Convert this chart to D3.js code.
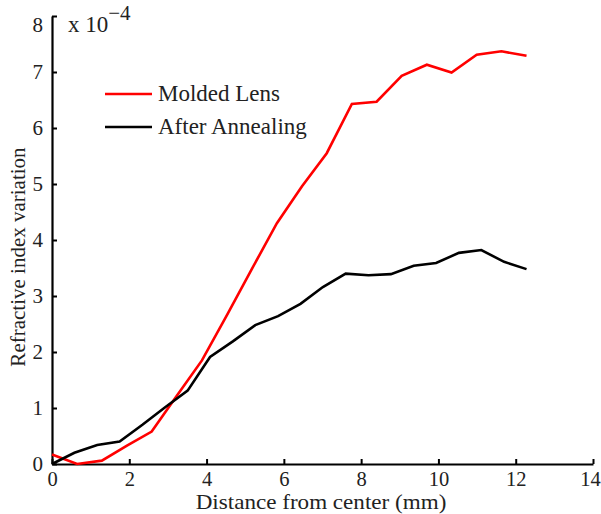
<!DOCTYPE html>
<html><head><meta charset="utf-8">
<script src="https://cdn.jsdelivr.net/npm/d3@7"></script>
<style>
body{margin:0;background:#fff;}
text{font-family:"Liberation Serif","Times New Roman",serif;fill:#222;}
</style></head>
<body>
<svg id="chart" width="601" height="514"></svg>
<script>
const xMolded = [0, 0.65, 1.29, 1.94, 2.58, 3.23, 3.88, 4.52, 5.17, 5.82, 6.47, 7.11, 7.76, 8.40, 9.05, 9.70, 10.34, 10.99, 11.63, 12.28];
const molded = [0.17, 0.0, 0.06, 0.33, 0.58, 1.22, 1.85, 2.65, 3.48, 4.30, 4.96, 5.55, 6.43, 6.47, 6.93, 7.13, 6.99, 7.31, 7.37, 7.29];
const xAnneal = [0, 0.58, 1.17, 1.75, 2.34, 2.92, 3.51, 4.09, 4.68, 5.26, 5.85, 6.43, 7.01, 7.60, 8.19, 8.77, 9.36, 9.94, 10.53, 11.11, 11.70, 12.28];
const anneal = [0, 0.20, 0.34, 0.40, 0.70, 1.01, 1.31, 1.91, 2.19, 2.48, 2.64, 2.86, 3.16, 3.40, 3.37, 3.39, 3.54, 3.59, 3.77, 3.82, 3.61, 3.48];
const xTicks = [0, 2, 4, 6, 8, 10, 12, 14];
const yTicks = [0, 1, 2, 3, 4, 5, 6, 7, 8];
const seriesNames = ["Molded Lens", "After Annealing"];
const seriesColors = ["#ff0000", "#000000"];

const svg = d3.select("#chart");
const m = {l: 52, r: 8, t: 16, b: 50};
const W = 601, H = 514;
const x = d3.scaleLinear().domain([0, 14]).range([m.l, W - m.r]);
const y = d3.scaleLinear().domain([0, 8]).range([H - m.b, m.t]);
const fsTick = 21;

// axes
const xAxis = svg.append("g").attr("transform", `translate(0,${H - m.b})`)
  .call(d3.axisBottom(x).tickValues(xTicks).tickFormat(d3.format("d")).tickSizeInner(-5).tickSizeOuter(0).tickPadding(7));
const yAxis = svg.append("g").attr("transform", `translate(${m.l},0)`)
  .call(d3.axisLeft(y).tickValues(yTicks).tickFormat(d3.format("d")).tickSizeInner(-5).tickSizeOuter(0).tickPadding(9));
[xAxis, yAxis].forEach(g => {
  g.select(".domain").attr("stroke", "#000").attr("stroke-width", 2.2);
  g.selectAll(".tick line").attr("stroke", "#000").attr("stroke-width", 2);
  g.selectAll(".tick text").attr("font-size", fsTick).attr("fill", "#222")
    .style("font-family", '"Liberation Serif","Times New Roman",serif');
});
xAxis.selectAll(".tick text").attr("font-size", 20.5);
yAxis.selectAll(".tick text").filter(d => d === 8).attr("dy", "0.75em");
xAxis.selectAll(".tick text").filter(d => d === 14).attr("dx", -3);

// lines
const line = d3.line().x(d => x(d[0])).y(d => y(d[1]));
const data = [d3.zip(xMolded, molded), d3.zip(xAnneal, anneal)];
data.forEach((pts, i) => {
  svg.append("path").datum(pts).attr("d", line).attr("fill", "none")
    .attr("stroke", seriesColors[i]).attr("stroke-width", 2.6)
    .attr("stroke-linejoin", "miter");
});

// axis titles
svg.append("text").attr("transform", "translate(321,509.3) scale(1.1,1)").attr("text-anchor", "middle")
  .attr("font-size", 21).text("Distance from center (mm)");
svg.append("text").attr("transform", `translate(25,${257}) rotate(-90)`)
  .attr("text-anchor", "middle").attr("font-size", fsTick).text("Refractive index variation");

// exponent label
const ex = svg.append("text").attr("x", 68).attr("y", 32).attr("font-size", 23);
ex.append("tspan").text("x 10");
ex.append("tspan").attr("dy", -12).attr("font-size", 21).text("\u22124");

// legend
seriesNames.forEach((name, i) => {
  const ly = 94 + i * 33;
  svg.append("line").attr("x1", 105).attr("x2", 152).attr("y1", ly).attr("y2", ly)
    .attr("stroke", seriesColors[i]).attr("stroke-width", 2.6);
  svg.append("text").attr("x", 158).attr("y", ly + 7).attr("font-size", 23).text(name);
});
</script>
</body></html>
